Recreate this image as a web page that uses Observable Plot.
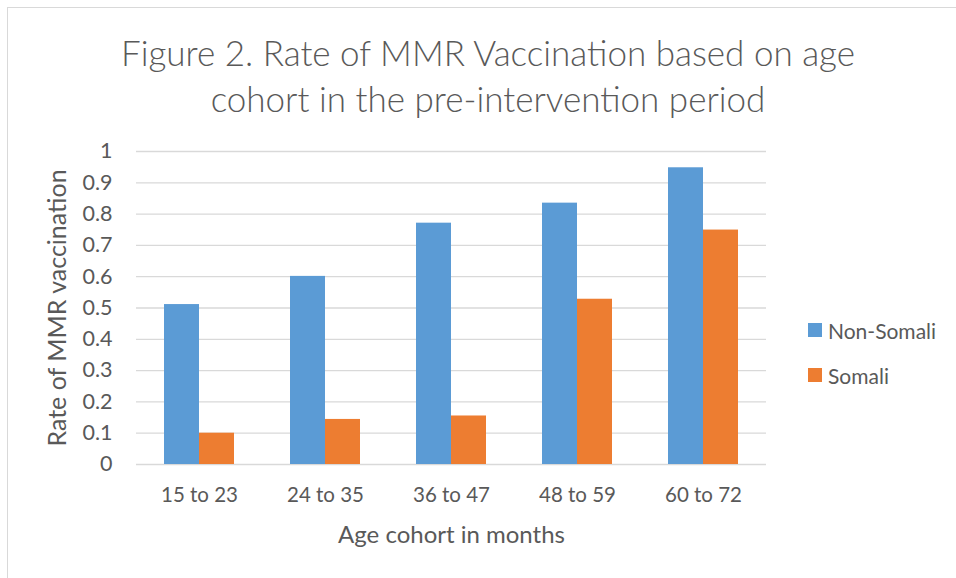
<!DOCTYPE html>
<html>
<head>
<meta charset="utf-8">
<script src="https://cdn.jsdelivr.net/npm/d3@7"></script>
<script src="https://cdn.jsdelivr.net/npm/@observablehq/plot@0.6"></script>
<style>
  html, body { margin: 0; padding: 0; background: #fff; }
  #chart { position: relative; width: 956px; height: 578px; overflow: hidden; font-family: Lato, "Open Sans", sans-serif; color: #595959; }
  #frame { position: absolute; left: 7px; top: 7px; width: 1000px; height: 1000px; border-left: 1.5px solid #d9d9d9; border-top: 1.5px solid #d9d9d9; }
  #title { position: absolute; left: 0; top: 29px; width: 976px; text-align: center; font-size: 35px; line-height: 46px; font-weight: 300; }
  #legend { position: absolute; left: 808px; top: 0; font-size: 21px; }
  .li { position: absolute; left: 0; white-space: nowrap; display: flex; align-items: center; }
  .sw { width: 14px; height: 14px; margin-right: 6px; }
  #plot { position: absolute; left: 0; top: 0; }
</style>
</head>
<body>
<div id="chart">
  <div id="frame"></div>
  <div id="plot"></div>
  <div id="title">Figure 2. Rate of MMR Vaccination based on age<br>cohort in the pre-intervention period</div>
  <div id="legend"></div>
</div>
<script>
const cohorts = ["15 to 23", "24 to 35", "36 to 47", "48 to 59", "60 to 72"];
const series = ["Non-Somali", "Somali"];
const nonSomali = [0.511, 0.601, 0.771, 0.835, 0.948];
const somali = [0.100, 0.144, 0.155, 0.528, 0.749];
const colors = ["#5B9BD5", "#ED7D31"];
const yTicks = [0, 0.1, 0.2, 0.3, 0.4, 0.5, 0.6, 0.7, 0.8, 0.9, 1];
const yLabel = "Rate of MMR vaccination";
const xLabel = "Age cohort in months";

const data = [];
cohorts.forEach((c, i) => {
  data.push({cohort: c, series: series[0], value: nonSomali[i]});
  data.push({cohort: c, series: series[1], value: somali[i]});
});

const fontFamily = 'Lato, "Open Sans", sans-serif';

const chart = Plot.plot({
  width: 956,
  height: 578,
  marginLeft: 135,
  marginRight: 189,
  marginTop: 151,
  marginBottom: 114,
  style: {fontFamily, color: "#595959", background: "transparent", overflow: "visible"},
  fx: {domain: cohorts, padding: 0},
  x: {domain: series, paddingInner: 0, paddingOuter: 0.756, axis: null},
  y: {domain: [0, 1]},
  color: {domain: series, range: colors},
  marks: [
    Plot.gridY(yTicks, {stroke: "#d9d9d9", strokeOpacity: 1, strokeWidth: 1.3}),
    Plot.barY(data, {fx: "cohort", x: "series", y: "value", fill: "series"}),
    Plot.axisY(yTicks, {tickSize: 0, tickPadding: 24, fontSize: 21.5, tickFormat: d => String(d), label: null}),
    Plot.axisY([], {tickSize: 0, fontSize: 25, label: yLabel, labelArrow: "none", labelAnchor: "center", labelOffset: 88}),
    Plot.axisFx({anchor: "bottom", tickSize: 0, tickPadding: 23, fontSize: 20.5, label: null}),
    Plot.axisFx([], {anchor: "bottom", tickSize: 0, fontSize: 24, label: xLabel, labelArrow: "none", labelAnchor: "center", labelOffset: 78})
  ]
});
document.getElementById("plot").appendChild(chart);

const legend = document.getElementById("legend");
const legendY = [330, 375];
series.forEach((s, i) => {
  const row = document.createElement("div");
  row.className = "li";
  row.style.top = (legendY[i] - 13) + "px";
  row.style.height = "26px";
  row.innerHTML = `<span class="sw" style="background:${colors[i]}"></span><span>${s}</span>`;
  legend.appendChild(row);
});
</script>
</body>
</html>
